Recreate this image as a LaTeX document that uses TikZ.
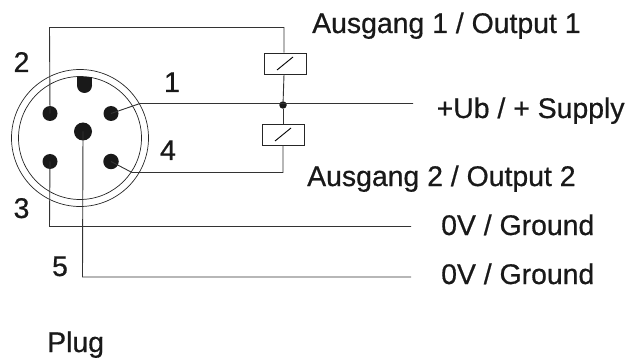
\documentclass[tikz,border=0pt]{standalone}
\usepackage{fontspec}
\setmainfont[FakeBold=0.6]{Liberation Sans}
\tikzset{
  wire/.style={line width=0.9pt,color=black!80},
  thin ring/.style={draw=black!85,line width=0.7pt,fill=none},
  pin/.style={circle,fill=black!90,inner sep=0pt,minimum size=#1},
  relay/.style={draw=black!85,fill=white,line width=0.9pt,minimum width=42pt,minimum height=21pt,inner sep=0pt},
  lab/.style={anchor=base west,inner sep=0pt,font=\fontsize{28.4}{30}\selectfont,text=black!90},
  num/.style={anchor=base,inner sep=0pt,font=\fontsize{28.5}{30}\selectfont,text=black!90}
}
\begin{document}
\begin{tikzpicture}[x=1pt,y=-1pt]
\useasboundingbox (0,0) rectangle (626,358);
\node[thin ring,circle,minimum size=137pt,inner sep=0pt] (outer) at (80,138) {};
\node[thin ring,circle,minimum size=123pt,inner sep=0pt] (inner) at (80,138) {};
\node[pin=15pt] (p2) at (50,113.5) {};
\node[pin=15pt] (p1) at (111,113.5) {};
\node[pin=18pt] (p5) at (83,131.5) {};
\node[pin=15pt] (p3) at (50,161.5) {};
\node[pin=15.5pt] (p4) at (111,161.5) {};
\fill[black!90] (77,77) rectangle (92,85.5);
\fill[black!90] (84.5,85.5) circle (7.5pt);
\node[relay] (r1) at (285,63.5) {};
\node[relay] (r2) at (283,134.5) {};
\node[circle,fill=black!90,inner sep=0pt,minimum size=7.5pt] (j) at (283,105) {};
\coordinate (t0) at (49.5,27.5);
\coordinate (t1) at (284,27.5);
\coordinate (a1) at (140,103.5);
\coordinate (e1) at (413,103.5);
\coordinate (a4) at (132,172.5);
\coordinate (c4) at (283,172.5);
\coordinate (g3) at (49.5,226.5);
\coordinate (e3) at (411,226.5);
\coordinate (g5) at (82.5,277);
\coordinate (e5) at (411,277);
\draw[wire] (p2.center) -- (t0) -- (t1) -- (t1 |- r1.north);
\draw[wire] (r1.south -| t1) -- (j);
\draw[wire] (j) -- (r2.north);
\draw[wire] (r2.south) -- (c4) -- (a4) -- (p4.center);
\draw[wire] (p1.center) -- (a1) -- (e1);
\draw[wire] (p3.center) -- (g3) -- (e3);
\draw[wire] (p5.center) -- (g5) -- (e5);
\draw[line width=0.9pt,black] ([xshift=-8pt,yshift=-6.5pt]r1.center) -- ([xshift=8pt,yshift=6.5pt]r1.center);
\draw[line width=0.9pt,black] ([xshift=-8pt,yshift=-6.5pt]r2.center) -- ([xshift=8pt,yshift=6.5pt]r2.center);
\node[lab] (l1) at (312,33) {Ausgang 1 / Output 1};
\node[lab] (l2) at (436.5,118) {+Ub / + Supply};
\node[lab] (l3) at (307,186) {Ausgang 2 / Output 2};
\node[lab] (l4) at (441,235) {0V / Ground};
\node[lab] (l5) at (441,284) {0V / Ground};
\node[lab] (l6) at (47,352) {Plug};
\node[num] (n2) at (21.5,72) {2};
\node[num] (n1) at (172,92) {1};
\node[num] (n4) at (168,160) {4};
\node[num] (n3) at (21.5,218) {3};
\node[num] (n5) at (60,276) {5};
\end{tikzpicture}
\end{document}
